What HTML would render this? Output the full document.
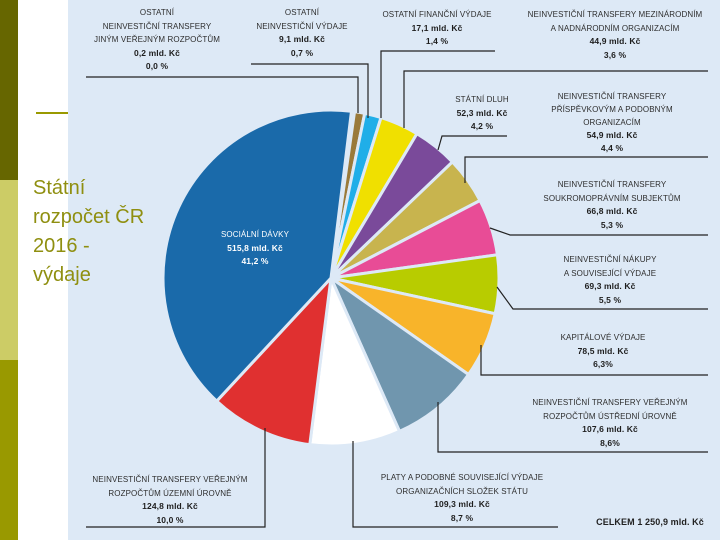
<!DOCTYPE html>
<html><head><meta charset="utf-8">
<style>
html,body{margin:0;padding:0}
body{width:720px;height:540px;position:relative;overflow:hidden;background:#fff;font-family:"Liberation Sans",sans-serif}
.bar{position:absolute;left:0;width:18px}
#img{position:absolute;left:68px;top:0;width:652px;height:540px;background:#dde9f6}
.lbl{position:absolute;transform:translateX(-50%);text-align:center;font-size:8px;line-height:13.5px;color:#2e2e2e;white-space:nowrap;letter-spacing:0.1px}
.lbl b{font-size:8.5px;color:#1e1e1e}
#title{position:absolute;left:33px;top:174px;font-size:20px;line-height:29px;color:#8f8f10}
</style></head><body>
<div class="bar" style="top:0;height:180px;background:#666600"></div>
<div class="bar" style="top:180px;height:180px;background:#cccc66"></div>
<div class="bar" style="top:360px;height:180px;background:#999900"></div>
<div id="img"></div>
<div style="position:absolute;left:36px;top:112px;width:32px;height:2px;background:#999900"></div>
<svg id="chart" width="720" height="540" style="position:absolute;left:0;top:0"></svg>
<div id="title">Státní<br>rozpočet ČR<br>2016 -<br>výdaje</div>

<div class="lbl" style="left:157px;top:6px">OSTATNÍ<br>NEINVESTIČNÍ TRANSFERY<br>JINÝM VEŘEJNÝM ROZPOČTŮM<br><b>0,2 mld. Kč</b><br><b>0,0 %</b></div>
<div class="lbl" style="left:302px;top:6px">OSTATNÍ<br>NEINVESTIČNÍ VÝDAJE<br><b>9,1 mld. Kč</b><br><b>0,7 %</b></div>
<div class="lbl" style="left:437px;top:8px">OSTATNÍ FINANČNÍ VÝDAJE<br><b>17,1 mld. Kč</b><br><b>1,4 %</b></div>
<div class="lbl" style="left:615px;top:8px">NEINVESTIČNÍ TRANSFERY MEZINÁRODNÍM<br>A NADNÁRODNÍM ORGANIZACÍM<br><b>44,9 mld. Kč</b><br><b>3,6 %</b></div>
<div class="lbl" style="left:482px;top:93px">STÁTNÍ DLUH<br><b>52,3 mld. Kč</b><br><b>4,2 %</b></div>
<div class="lbl" style="left:612px;top:90px;line-height:13px">NEINVESTIČNÍ TRANSFERY<br>PŘÍSPĚVKOVÝM A PODOBNÝM<br>ORGANIZACÍM<br><b>54,9 mld. Kč</b><br><b>4,4 %</b></div>
<div class="lbl" style="left:612px;top:178px">NEINVESTIČNÍ TRANSFERY<br>SOUKROMOPRÁVNÍM SUBJEKTŮM<br><b>66,8 mld. Kč</b><br><b>5,3 %</b></div>
<div class="lbl" style="left:610px;top:253px">NEINVESTIČNÍ NÁKUPY<br>A SOUVISEJÍCÍ VÝDAJE<br><b>69,3 mld. Kč</b><br><b>5,5 %</b></div>
<div class="lbl" style="left:603px;top:331px">KAPITÁLOVÉ VÝDAJE<br><b>78,5 mld. Kč</b><br><b>6,3%</b></div>
<div class="lbl" style="left:610px;top:396px">NEINVESTIČNÍ TRANSFERY VEŘEJNÝM<br>ROZPOČTŮM ÚSTŘEDNÍ ÚROVNĚ<br><b>107,6 mld. Kč</b><br><b>8,6%</b></div>
<div class="lbl" style="left:462px;top:471px">PLATY A PODOBNÉ SOUVISEJÍCÍ VÝDAJE<br>ORGANIZAČNÍCH SLOŽEK STÁTU<br><b>109,3 mld. Kč</b><br><b>8,7 %</b></div>
<div class="lbl" style="left:170px;top:473px">NEINVESTIČNÍ TRANSFERY VEŘEJNÝM<br>ROZPOČTŮM ÚZEMNÍ ÚROVNĚ<br><b>124,8 mld. Kč</b><br><b>10,0 %</b></div>
<div class="lbl" style="left:650px;top:516px;font-size:9px;font-weight:bold;color:#222">CELKEM 1 250,9 mld. Kč</div>
<div class="lbl" style="left:255px;top:228px;color:#fff">SOCIÁLNÍ DÁVKY<br><b style="color:#fff">515,8 mld. Kč</b><br><b style="color:#fff">41,2 %</b></div>

<script>
const categories=["Ostatní neinv. transfery jiným rozpočtům","Ostatní neinvestiční výdaje","Ostatní finanční výdaje","Transfery mezinárodním organizacím","Státní dluh","Transfery příspěvkovým organizacím","Transfery soukromoprávním subjektům","Neinvestiční nákupy","Kapitálové výdaje","Transfery ústřední úrovně","Platy","Transfery územní úrovně","Sociální dávky"];
const values=[0.2,9.1,17.1,44.9,52.3,54.9,66.8,69.3,78.5,107.6,109.3,124.8,515.8];
const colors=["#e8902a","#9a7a3a","#20aee8","#f0e000","#7a4a9a","#c8b44e","#e84c96","#b8cc00","#f8b42a","#7096ae","#ffffff","#e03030","#1a6aaa"];
const svg=document.getElementById('chart');
const NS="http://www.w3.org/2000/svg";
const cx=331,cy=278,R=168,minA=1,start=7;
const total=values.reduce((a,b)=>a+b,0);
function pt(a,r){const t=(a-90)*Math.PI/180;return [cx+r*Math.cos(t),cy+r*Math.sin(t)];}
let a=start;
values.forEach((v,i)=>{
  const span=v/total*(360-values.length*minA)+minA;
  const a0=a,a1=a+span;a=a1;
  const p0=pt(a0,R),p1=pt(a1,R);
  const p=document.createElementNS(NS,'path');
  p.setAttribute('d',`M${cx},${cy}L${p0[0]},${p0[1]}A${R},${R} 0 ${span>180?1:0} 1 ${p1[0]},${p1[1]}Z`);
  p.setAttribute('fill',colors[i]);
  p.setAttribute('stroke','#dde9f6');
  p.setAttribute('stroke-width','3');
  
  
  svg.appendChild(p);
});
const leaders=[
 "M86,77H358V113","M251,64H368V118","M495,51H381V118","M708,71H404V128",
 "M507,136H442L438,150","M708,157H465V183","M708,235H510L490,228","M708,309H513L497,287",
 "M708,375H481V345","M708,452H438V402","M558,527H353V441","M86,527H265V428"];
leaders.forEach((d,i)=>{
  const l=document.createElementNS(NS,'path');
  l.setAttribute('d',d);l.setAttribute('fill','none');l.setAttribute('stroke','#222');l.setAttribute('stroke-width','1.2');
  
  
  svg.appendChild(l);
});
</script>
</body></html>
